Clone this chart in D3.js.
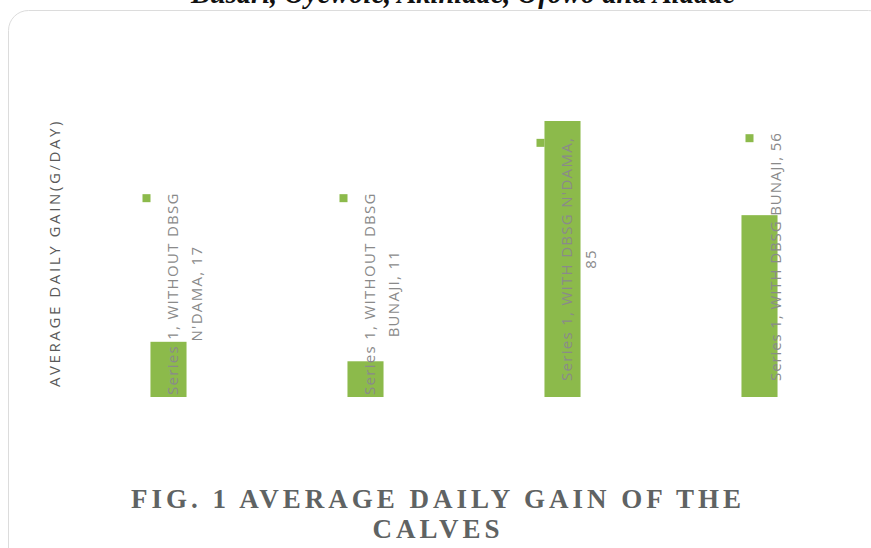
<!DOCTYPE html>
<html>
<head>
<meta charset="utf-8">
<script src="https://cdn.jsdelivr.net/npm/d3@7"></script>
<style>
  body { margin: 0; background: #fff; }
  svg { display: block; }
</style>
</head>
<body>
<svg id="chart" width="871" height="548"></svg>
<script>
// chart data
const seriesName = 'Series 1'
const categories = ["WITHOUT DBSG N'DAMA", 'WITHOUT DBSG BUNAJI', "WITH DBSG N'DAMA", 'WITH DBSG BUNAJI']
const values = [17, 11, 85, 56]
// how the data labels wrap (as in the picture)
const labelLines = [
  ['Series 1, WITHOUT DBSG', "N'DAMA, 17"],
  ['Series 1, WITHOUT DBSG', 'BUNAJI, 11'],
  ["Series 1, WITH DBSG N'DAMA,", '85'],
  ['Series 1, WITH DBSG BUNAJI, 56'],
]
const yTitle = 'AVERAGE DAILY GAIN(G/DAY)'
const titleLines = ['FIG. 1 AVERAGE DAILY GAIN OF THE', 'CALVES']
const header = 'Busari, Oyewole, Akinlade, Ofowo  and Aladae'

const green = '#8cba4b'
const svg = d3.select('#chart')

// page header, cut off by the crop in the original too
svg.append('text')
  .attr('x', 463).attr('y', 3)
  .attr('text-anchor', 'middle')
  .style('font', 'italic bold 28.5px "Liberation Serif", serif')
  .style('fill', '#111')
  .text(header)

// chart area frame
svg.append('rect')
  .attr('x', 8.5).attr('y', 10.5)
  .attr('width', 880).attr('height', 560)
  .attr('rx', 20)
  .style('fill', '#fff')
  .style('stroke', '#dcdcdc')

const x = d3.scaleBand()
  .domain(categories)
  .range([70, 858])
  .paddingInner(0.817)
  .paddingOuter(0.4085)

const y = d3.scaleLinear()
  .domain([0, 85])
  .range([397, 121])

const data = categories.map((c, i) => ({ cat: c, value: values[i], lines: labelLines[i] }))

// bars
svg.append('g')
  .selectAll('rect')
  .data(data)
  .join('rect')
  .attr('x', d => x(d.cat))
  .attr('y', d => y(d.value))
  .attr('width', x.bandwidth())
  .attr('height', d => y(0) - y(d.value))
  .style('fill', green)

// data labels (rotated, with legend key)
const lineGap = 24
const labels = svg.append('g')
  .selectAll('g')
  .data(data)
  .join('g')

labels.each(function (d) {
  const g = d3.select(this)
  const cx = x(d.cat) + x.bandwidth() / 2 + 15
  const n = d.lines.length
  const texts = g.selectAll('text')
    .data(d.lines)
    .join('text')
    .attr('text-anchor', 'middle')
    .attr('dominant-baseline', 'central')
    .attr('y', (t, i) => (i - (n - 1) / 2) * lineGap)
    .style('font', '15px "Open Sans", sans-serif')
    .style('letter-spacing', n > 1 ? '1.3px' : '0.9px')
    .style('fill', '#8a8a8a')
    .text(t => t)
  const len = texts.node().getComputedTextLength()
  const start = y(0) - 2 - (d.value > 50 ? 14 : 0)
  const cy = start - len / 2
  g.attr('transform', `translate(${cx},${cy}) rotate(-90)`)
  // legend key next to the first line
  g.insert('rect', 'text')
    .attr('x', len / 2 - 10)
    .attr('y', -(n - 1) / 2 * lineGap - 29)
    .attr('width', 8).attr('height', 8)
    .style('fill', green)
})

// y axis title
svg.append('text')
  .attr('transform', 'translate(54,253) rotate(-90)')
  .attr('text-anchor', 'middle')
  .attr('dominant-baseline', 'central')
  .style('font', '15px "Open Sans", sans-serif')
  .style('letter-spacing', '2.6px')
  .style('fill', '#595959')
  .text(yTitle)

// chart title
svg.append('g')
  .selectAll('text')
  .data(titleLines)
  .join('text')
  .attr('x', 438)
  .attr('y', (t, i) => 508 + i * 30)
  .attr('text-anchor', 'middle')
  .style('font', 'bold 27px "Liberation Serif", serif')
  .style('letter-spacing', '4px')
  .style('fill', '#5f6363')
  .text(t => t)
</script>
</body>
</html>
